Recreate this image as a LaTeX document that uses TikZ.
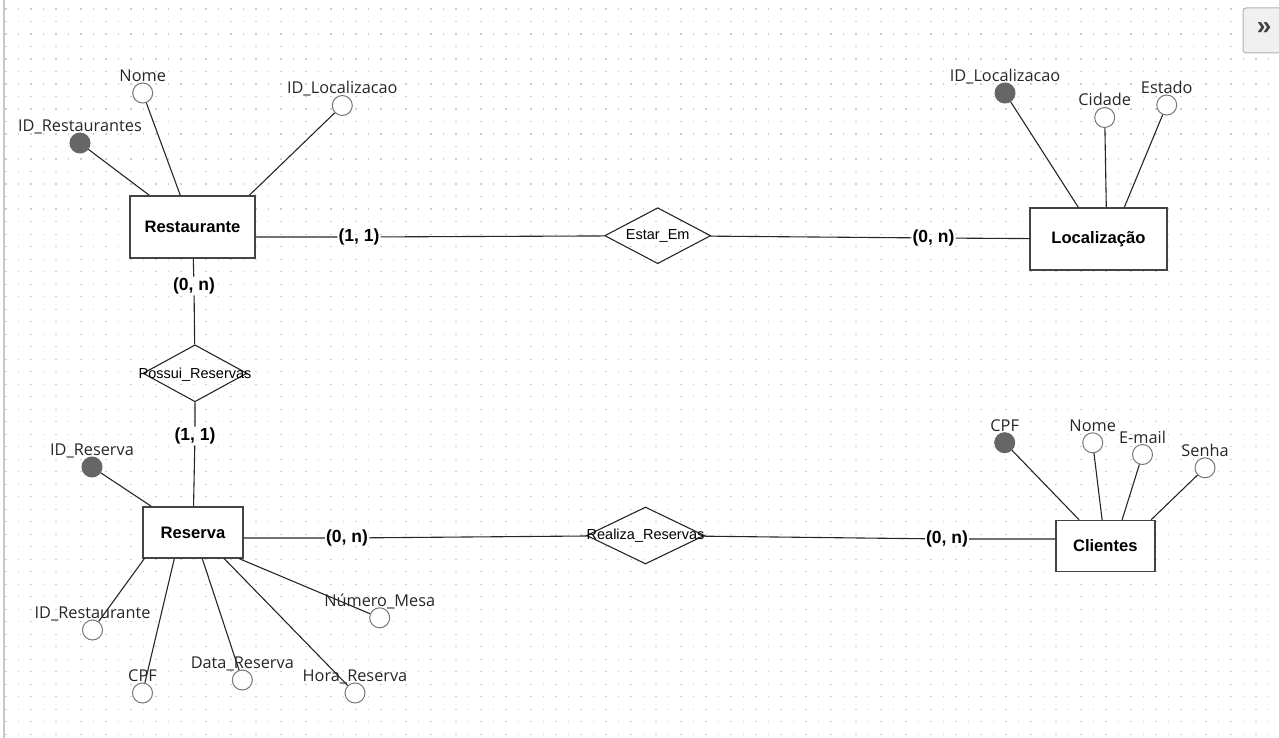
\documentclass[tikz,border=0pt]{standalone}
\usepackage{fontspec}
\setmainfont{Liberation Sans}
\newfontfamily\atribfont{Open Sans}
\usetikzlibrary{shapes.geometric}

\definecolor{pontos}{HTML}{CDCDCD}
\definecolor{borda}{HTML}{444444}
\definecolor{chavecor}{HTML}{666666}
\definecolor{circulo}{HTML}{777777}

\tikzset{
    linha/.style={draw=black!85, line width=1.1pt},
    entidade/.style={draw=borda, line width=1.4pt, fill=white, inner sep=0,
        minimum width=125pt, minimum height=62pt,
        font=\fontsize{16.6}{18}\selectfont\bfseries},
    relacao/.style={diamond, draw=black!85, line width=1.1pt, inner sep=0,
        minimum width=106pt, minimum height=56pt},
    rotrel/.style={inner sep=0, font=\fontsize{14.5}{16}\selectfont},
    card/.style={inner sep=1pt, font=\fontsize{17.5}{19}\selectfont\bfseries},
    atrib/.style={circle, draw=circulo, line width=1pt, fill=white,
        inner sep=0, minimum size=20pt},
    chave/.style={circle, draw=chavecor, fill=chavecor, line width=1pt,
        inner sep=0, minimum size=20pt},
    rotulo/.style={anchor=base, yshift=1pt, inner sep=0, text=black!85,
        font=\atribfont\fontsize{16.3}{18}\selectfont}
}

\begin{document}
\begin{tikzpicture}[x=1pt, y=-1pt]
    \useasboundingbox (0,0) rectangle (1279,738);
    % fundo pontilhado
    \foreach \i in {0,...,102}
        \foreach \j in {0,...,58}
            \fill [pontos] (5.2+12.5*\i, 8.5+12.5*\j) rectangle ++(1.3,1.3);
    \draw [black!22, line width=1.5pt] (4,0) -- (4,738);
    \draw [fill=black!6, draw=black!30, line width=1pt, rounded corners=3pt] (1243,8) rectangle (1295,53);
    \node [text=black!75, font=\fontsize{26}{26}\selectfont\bfseries] at (1264,29) {»};

    % entidades
    \node [entidade] (restaurante) at (192.5,227) {Restaurante};
    \node [entidade, minimum width=137pt] (localizacao) at (1098.5,239) {Localização};
    \node [entidade, minimum width=100pt, minimum height=51pt] (reserva) at (193,532.5) {Reserva};
    \node [entidade, minimum width=99pt, minimum height=51pt] (clientes) at (1105.3,546) {Clientes};

    % relacionamentos
    \node [relacao] (estar) at (657.7,235.7) {};
    \node [rotrel] at (estar) {Estar\_Em};
    \node [relacao, minimum width=104pt, minimum height=57pt] (possui) at (195,373.3) {};
    \node [rotrel, yshift=-1.5pt] at (possui) {Possui\_Reservas};
    \node [relacao, minimum width=118pt, minimum height=57pt] (realiza) at (645.5,535.5) {};
    \node [rotrel] at (realiza) {Realiza\_Reservas};

    % cardinalidades
    \node [card] (c_rest_estar) at (359,237) {(1, 1)};
    \node [card] (c_estar_loc) at (933.5,238) {(0, n)};
    \node [card] (c_rest_possui) at (194,286) {(0, n)};
    \node [card] (c_possui_res) at (195,436) {(1, 1)};
    \node [card] (c_res_realiza) at (347,538) {(0, n)};
    \node [card] (c_realiza_cli) at (947,539) {(0, n)};

    \draw [linha] (restaurante.east |- c_rest_estar) -- (c_rest_estar) -- (estar);
    \draw [linha] (estar) -- (c_estar_loc) -- (localizacao);
    \draw [linha] (restaurante) -- (c_rest_possui) -- (possui);
    \draw [linha] (possui) -- (c_possui_res) -- (reserva);
    \draw [linha] (reserva.east |- c_res_realiza) -- (c_res_realiza) -- (realiza);
    \draw [linha] (realiza) -- (c_realiza_cli) -- (clientes.west |- c_realiza_cli);

    % atributos de Restaurante
    \node [chave] (r_id) at (80,143) {};
    \node [rotulo] at (r_id.north) {ID\_Restaurantes};
    \node [atrib] (r_nome) at (142.7,93) {};
    \node [rotulo] at (r_nome.north) {Nome};
    \node [atrib] (r_idloc) at (342.3,105.5) {};
    \node [rotulo] at (r_idloc.north) {ID\_Localizacao};
    \draw [linha] (r_id) -- ([xshift=20pt]restaurante.north west);
    \draw [linha] (r_nome) -- ([xshift=51pt]restaurante.north west);
    \draw [linha] (r_idloc) -- ([xshift=120pt]restaurante.north west);

    % atributos de Localizacao
    \node [chave] (l_id) at (1005,93) {};
    \node [rotulo] at (l_id.north) {ID\_Localizacao};
    \node [atrib] (l_cidade) at (1104.7,117.5) {};
    \node [rotulo] at (l_cidade.north) {Cidade};
    \node [atrib] (l_estado) at (1166.7,105) {};
    \node [rotulo] at (l_estado.north) {Estado};
    \draw [linha] (l_id) -- ([xshift=49pt]localizacao.north west);
    \draw [linha] (l_cidade) -- ([xshift=77pt]localizacao.north west);
    \draw [linha] (l_estado) -- ([xshift=95pt]localizacao.north west);

    % atributos de Clientes
    \node [chave] (c_cpf) at (1004.7,442.7) {};
    \node [rotulo] at (c_cpf.north) {CPF};
    \node [atrib] (c_nome) at (1092.7,442.8) {};
    \node [rotulo] at (c_nome.north) {Nome};
    \node [atrib] (c_email) at (1142.5,454.5) {};
    \node [rotulo] at (c_email.north) {E-mail};
    \node [atrib] (c_senha) at (1205,467.8) {};
    \node [rotulo] at (c_senha.north) {Senha};
    \draw [linha] (c_cpf) -- ([xshift=24pt]clientes.north west);
    \draw [linha] (c_nome) -- ([xshift=47pt]clientes.north west);
    \draw [linha] (c_email) -- ([xshift=67pt]clientes.north west);
    \draw [linha] (c_senha) -- ([xshift=96pt]clientes.north west);

    % atributos de Reserva
    \node [chave] (v_id) at (92,467) {};
    \node [rotulo] at (v_id.north) {ID\_Reserva};
    \node [atrib] (v_idrest) at (92.5,630) {};
    \node [rotulo] at (v_idrest.north) {ID\_Restaurante};
    \node [atrib] (v_cpf) at (142.5,693) {};
    \node [rotulo] at (v_cpf.north) {CPF};
    \node [atrib] (v_data) at (242.3,680) {};
    \node [rotulo] at (v_data.north) {Data\_Reserva};
    \node [atrib] (v_hora) at (355,693) {};
    \node [rotulo] at (v_hora.north) {Hora\_Reserva};
    \node [atrib] (v_mesa) at (379.7,617.8) {};
    \node [rotulo] at (v_mesa.north) {Número\_Mesa};
    \draw [linha] (v_id) -- ([xshift=9pt]reserva.north west);
    \draw [linha] (v_idrest) -- ([xshift=2pt]reserva.south west);
    \draw [linha] (v_cpf) -- ([xshift=32pt]reserva.south west);
    \draw [linha] (v_data) -- ([xshift=60pt]reserva.south west);
    \draw [linha] (v_hora) -- ([xshift=82pt]reserva.south west);
    \draw [linha] (v_mesa) -- ([xshift=97pt]reserva.south west);
\end{tikzpicture}
\end{document}
